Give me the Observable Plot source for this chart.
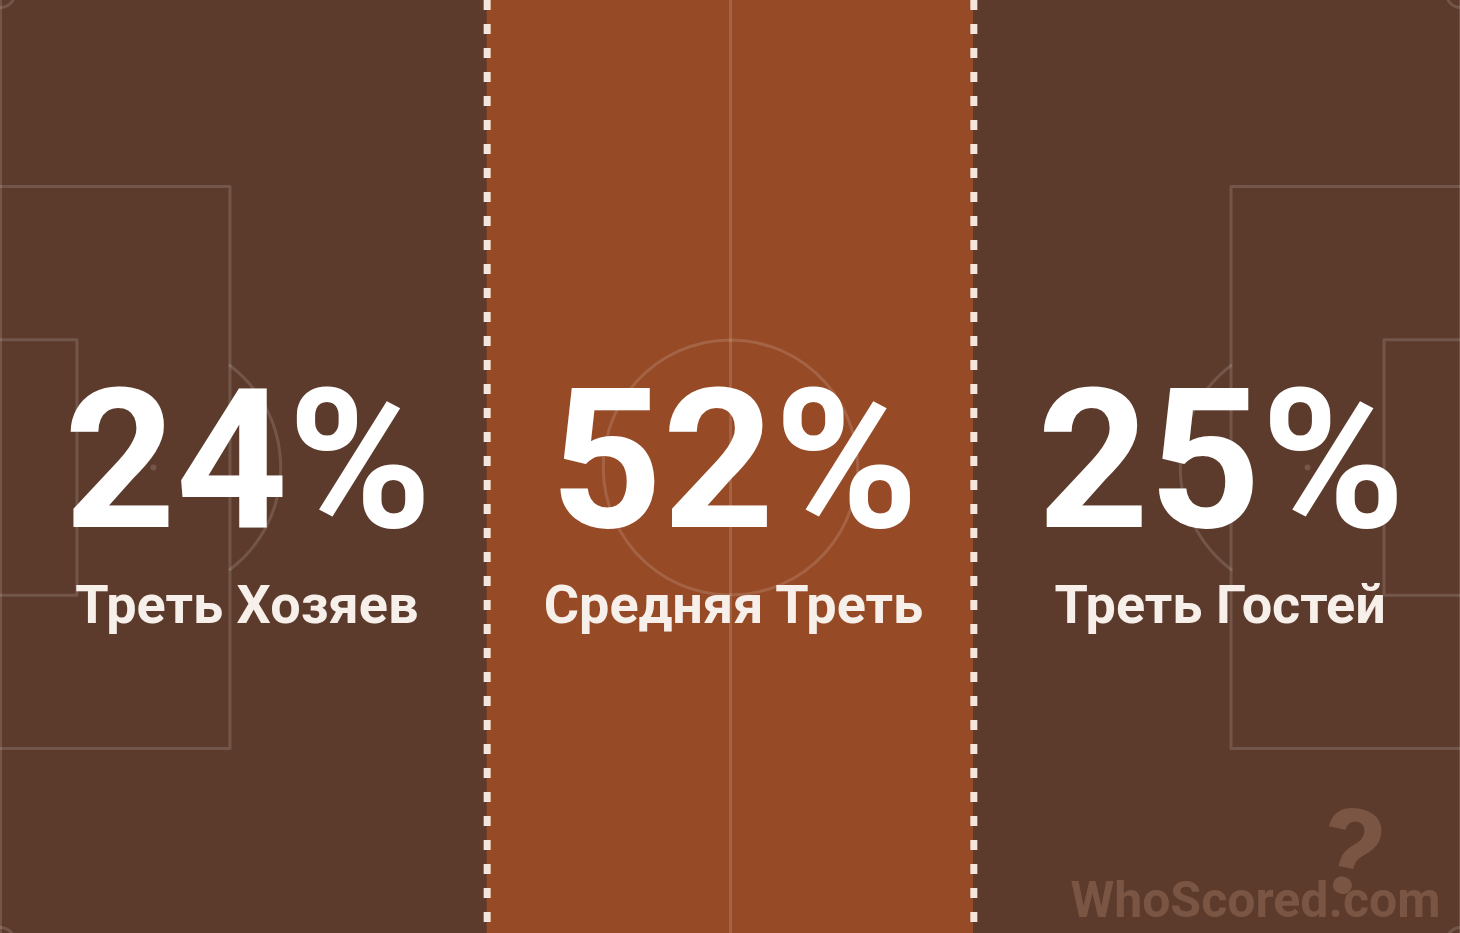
<!DOCTYPE html>
<html><head><meta charset="utf-8">
<script src="https://cdn.jsdelivr.net/npm/d3@7"></script>
<script src="https://cdn.jsdelivr.net/npm/@observablehq/plot@0.6"></script>
<style>
html,body{margin:0;padding:0;background:#5c3b2c;overflow:hidden;}
#chart svg{display:block;}
</style>
</head><body><div id="chart"></div>
<script>
// Data
const zones = ["Треть Хозяев", "Средняя Треть", "Треть Гостей"];
const shares = [24, 52, 25];
const zoneStart = [0, 35, 70];
const zoneEnd = [35, 70, 105];

// Pitch dimensions (metres)
const pitchLength = 105, pitchWidth = 68;
const boxDepth = 16.5, boxWidth = 40.32, sixDepth = 5.5, sixWidth = 18.32;
const spotDist = 11, circleR = 9.15, cornerR = 1;

const thirds = zones.map((name, i) => ({name, value: shares[i], start: zoneStart[i], end: zoneEnd[i]}));
const maxShare = d3.max(shares);

// Pitch geometry as polylines
const L = pitchLength, W = pitchWidth, cy = W / 2;
const lines = [];
let id = 0;
function poly(pts) { const k = id++; pts.forEach(([x, y]) => lines.push({x, y, id: k})); }
function arc(cx, cyy, r, a0, a1) {
  const n = 60;
  poly(d3.range(n + 1).map(i => { const a = a0 + (a1 - a0) * i / n; return [cx + r * Math.cos(a), cyy + r * Math.sin(a)]; }));
}
poly([[0, 0], [L, 0], [L, W], [0, W], [0, 0]]);
poly([[L / 2, 0], [L / 2, W]]);
for (const side of [0, 1]) {
  const f = x => side ? L - x : x;
  poly([[f(0), cy - boxWidth / 2], [f(boxDepth), cy - boxWidth / 2], [f(boxDepth), cy + boxWidth / 2], [f(0), cy + boxWidth / 2]]);
  poly([[f(0), cy - sixWidth / 2], [f(sixDepth), cy - sixWidth / 2], [f(sixDepth), cy + sixWidth / 2], [f(0), cy + sixWidth / 2]]);
  const t = Math.acos((boxDepth - spotDist) / circleR);
  if (side) arc(L - spotDist, cy, circleR, Math.PI - t, Math.PI + t);
  else arc(spotDist, cy, circleR, -t, t);
}
arc(L / 2, cy, circleR, 0, 2 * Math.PI);
arc(0, 0, cornerR, 0, Math.PI / 2);
arc(L, 0, cornerR, Math.PI / 2, Math.PI);
arc(0, W, cornerR, -Math.PI / 2, 0);
arc(L, W, cornerR, Math.PI, 1.5 * Math.PI);
const spots = [{x: spotDist, y: cy}, {x: L / 2, y: cy}, {x: L - spotDist, y: cy}];

const chart = Plot.plot({
  width: 1460,
  height: 933,
  margin: 0,
  style: {background: "transparent", fontFamily: "Roboto"},
  x: {domain: [0, L], range: [0, 1460], axis: null},
  y: {domain: [0, W], range: [-7, 941], axis: null},
  marks: [
    Plot.rect(thirds, {x1: "start", x2: "end", fill: d => d.value === maxShare ? "#964a26" : "#5c3b2c"}),
    Plot.line(lines, {x: "x", y: "y", z: "id", stroke: "white", strokeOpacity: 0.14, strokeWidth: 3, curve: "linear"}),
    Plot.dot(spots, {x: "x", y: "y", r: 3, fill: "white", fillOpacity: 0.14}),
    Plot.ruleX(thirds.slice(1), {x: "start", stroke: "#f4e6dc", strokeWidth: 7, strokeDasharray: "10,14"}),
    Plot.text(thirds, {x: d => (d.start + d.end) / 2, frameAnchor: "middle", text: d => d.value + "%", fontSize: 195, fontWeight: 700, fill: "white", lineAnchor: "bottom", dy: 60, dx: 4}),
    Plot.text(thirds, {x: d => (d.start + d.end) / 2, frameAnchor: "middle", text: "name", fontSize: 54, fontWeight: 700, fill: "#f6efea", lineAnchor: "bottom", dy: 156, dx: 3}),
    Plot.text(["WhoScored.com"], {frameAnchor: "bottom-right", text: d => d, fontSize: 50, fontWeight: 700, fill: "#7a5544", textAnchor: "end", lineAnchor: "bottom", dx: -20, dy: -17}),
    Plot.text(["?"], {frameAnchor: "bottom-right", text: d => d, fontSize: 120, fontWeight: 700, fill: "#7a5544", textAnchor: "middle", lineAnchor: "bottom", dx: -118, dy: -40, rotate: 12})
  ]
});
document.getElementById("chart").appendChild(chart);
</script>
</body></html>
